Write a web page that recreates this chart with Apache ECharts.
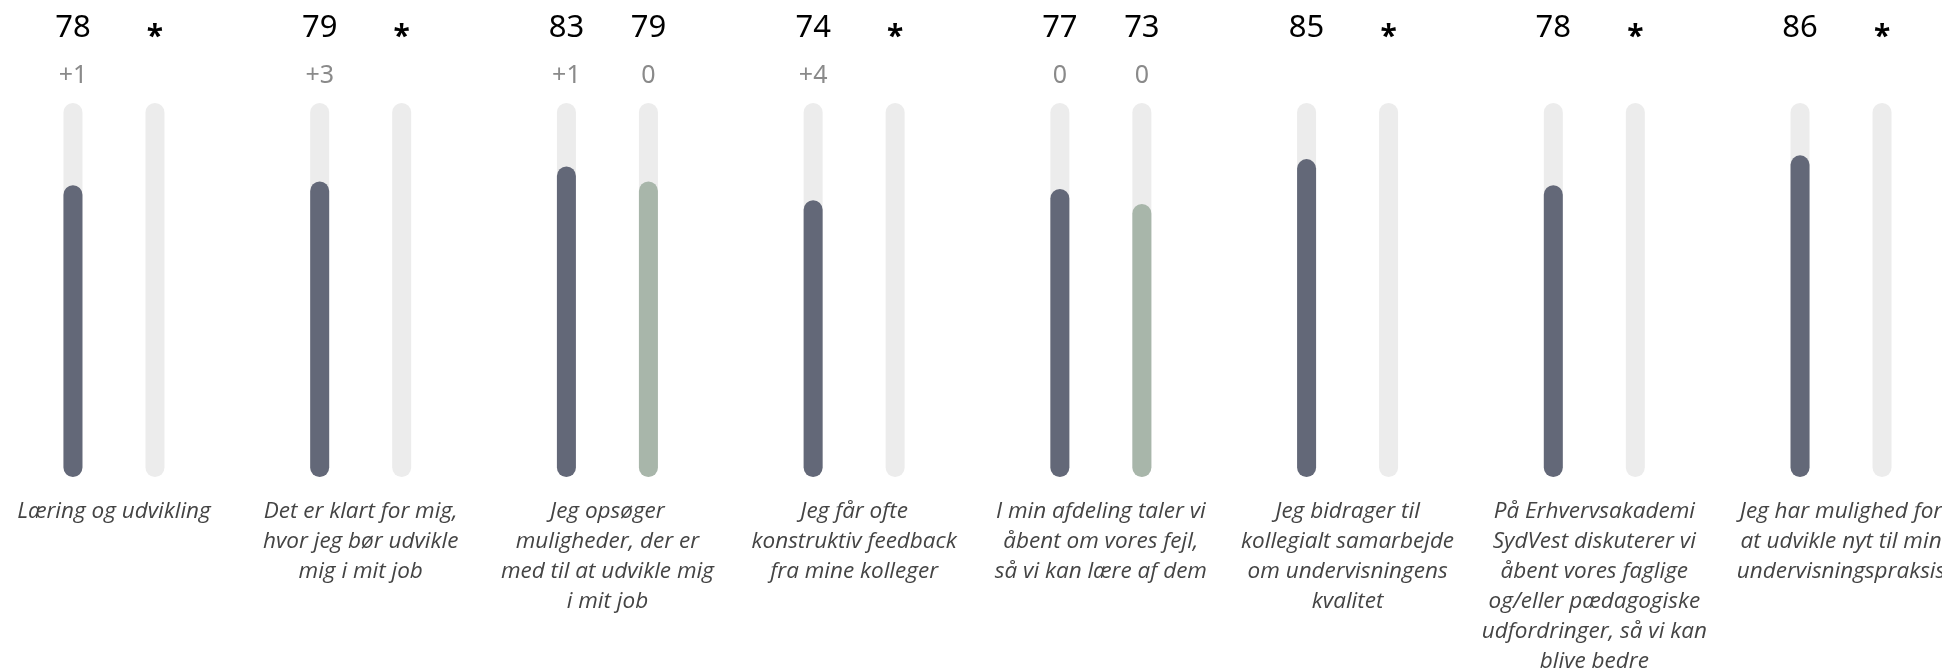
<!DOCTYPE html>
<html>
<head>
<meta charset="utf-8">
<script src="https://cdn.jsdelivr.net/npm/echarts@6/dist/echarts.min.js"></script>
<style>
html,body{margin:0;padding:0;background:#fff;}
#chart{width:1942px;height:672px;}
</style>
</head>
<body>
<div id="chart"></div>
<script>
const categories = [
  "Læring og udvikling",
  "Det er klart for mig,\nhvor jeg bør udvikle\nmig i mit job",
  "Jeg opsøger\nmuligheder, der er\nmed til at udvikle mig\ni mit job",
  "Jeg får ofte\nkonstruktiv feedback\nfra mine kolleger",
  "I min afdeling taler vi\nåbent om vores fejl,\nså vi kan lære af dem",
  "Jeg bidrager til\nkollegialt samarbejde\nom undervisningens\nkvalitet",
  "På Erhvervsakademi\nSydVest diskuterer vi\nåbent vores faglige\nog/eller pædagogiske\nudfordringer, så vi kan\nblive bedre",
  "Jeg har mulighed for\nat udvikle nyt til min\nundervisningspraksis"
];
const currentValues = [78, 79, 83, 74, 77, 85, 78, 86];
const currentDeltas = ["+1", "+3", "+1", "+4", "0", null, null, null];
const compareValues = [null, null, 79, null, 73, null, null, null];
const compareDeltas = [null, null, "0", null, "0", null, null, null];
const SCALE_MAX = 100;

const chart = echarts.init(document.getElementById('chart'));

const BAR_W = 19;
const GAP = '331.6%';
const numFont = 'Noto Sans';

const richStyles = {
  v: { fontSize: 31, color: '#000', fontFamily: numFont, lineHeight: 47 },
  d: { fontSize: 25, color: '#8a8a8a', fontFamily: numFont, lineHeight: 47 },
  s: { fontSize: 30, color: '#000', fontFamily: numFont, fontWeight: 'bold', lineHeight: 47, padding: [18, 0, 0, 0] }
};

function trackLabel(valuesArr, deltasArr) {
  return {
    show: true,
    position: 'top',
    distance: 4,
    rich: richStyles,
    formatter: function (p) {
      const v = valuesArr[p.dataIndex];
      const d = deltasArr[p.dataIndex];
      const top = v == null ? '{s|*}' : '{v|' + v + '}';
      const bottom = '{d|' + (d == null ? '\u00a0' : d) + '}';
      return top + '\n' + bottom;
    }
  };
}

const option = {
  backgroundColor: '#ffffff',
  animation: false,
  grid: { left: -9.4, right: -22.4, top: 103, bottom: 195, containLabel: false, outerBoundsMode: 'none' },
  xAxis: [
    {
      type: 'category',
      data: categories,
      axisLine: { show: false },
      axisTick: { show: false },
      axisLabel: {
        interval: 0,
        margin: 20,
        fontStyle: 'italic',
        fontFamily: 'Open Sans',
        fontSize: 22.5,
        lineHeight: 30,
        color: '#444444',
        align: 'center'
      }
    },
    {
      type: 'category',
      data: categories,
      show: false
    }
  ],
  yAxis: { type: 'value', min: 0, max: SCALE_MAX, show: false },
  series: [
    {
      name: 'trackCurrent',
      type: 'bar',
      xAxisIndex: 0,
      barWidth: BAR_W,
      barGap: GAP,
      silent: true,
      data: categories.map(() => SCALE_MAX),
      itemStyle: { color: '#ececec', borderRadius: 10 },
      label: trackLabel(currentValues, currentDeltas)
    },
    {
      name: 'trackCompare',
      type: 'bar',
      xAxisIndex: 0,
      barWidth: BAR_W,
      barGap: GAP,
      silent: true,
      data: categories.map(() => SCALE_MAX),
      itemStyle: { color: '#ececec', borderRadius: 10 },
      label: trackLabel(compareValues, compareDeltas)
    },
    {
      name: 'Aktuel',
      type: 'bar',
      xAxisIndex: 1,
      barWidth: BAR_W,
      barGap: GAP,
      data: currentValues,
      itemStyle: { color: '#636878', borderRadius: 10 }
    },
    {
      name: 'Sammenligning',
      type: 'bar',
      xAxisIndex: 1,
      barWidth: BAR_W,
      barGap: GAP,
      data: compareValues.map(v => v == null ? '-' : v),
      itemStyle: { color: '#a8b6aa', borderRadius: 10 }
    }
  ]
};
chart.setOption(option);
</script>
</body>
</html>
